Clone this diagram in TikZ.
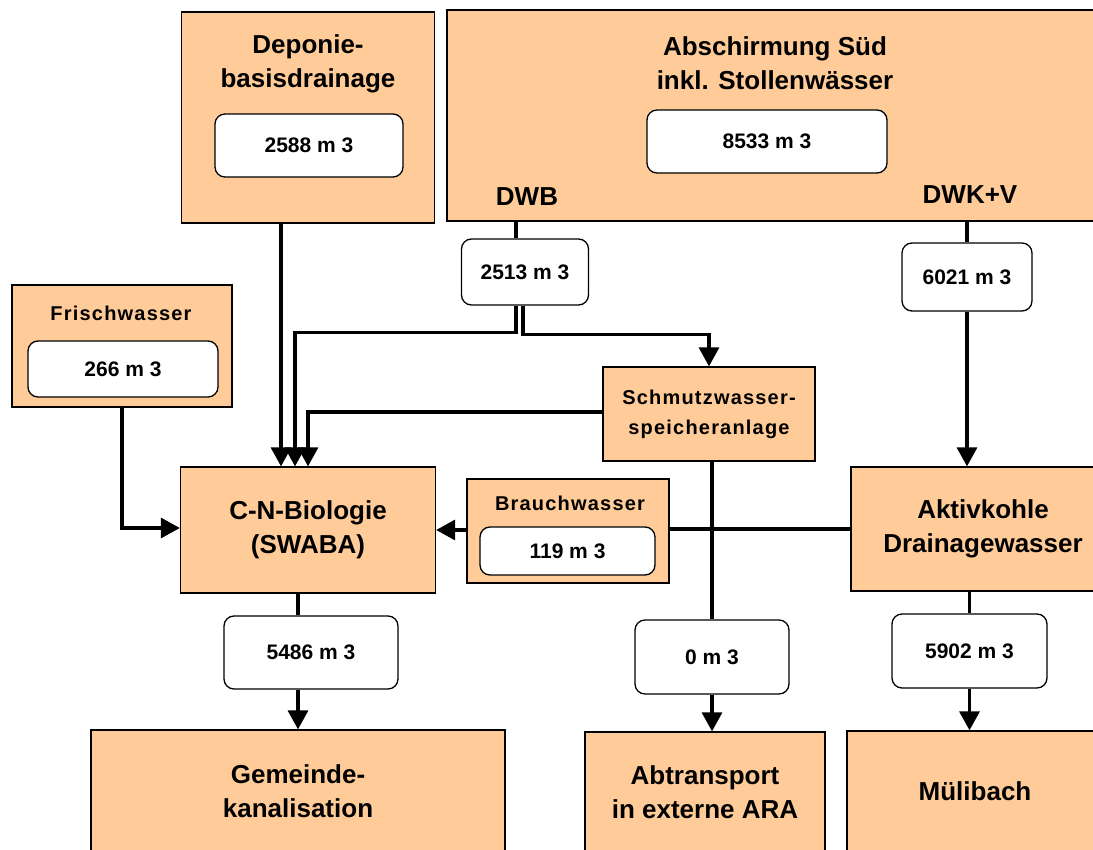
\documentclass[tikz,border=0pt]{standalone}
\usepackage{fontspec}
\setmainfont{Liberation Sans}
\newfontfamily\spacedfont[LetterSpace=6]{Liberation Sans}
\usetikzlibrary{arrows.meta}
\definecolor{peach}{HTML}{FFCC99}
\tikzset{
  unit/.style={draw, fill=peach, line width=1.3pt, inner sep=0pt},
  qty/.style={draw, fill=white, rounded corners=10pt, line width=1.3pt, inner sep=0pt,
    font=\bfseries\fontsize{21}{25}\selectfont},
  head/.style={font=\bfseries\fontsize{26}{34}\selectfont, align=center, inner sep=0pt},
  subhead/.style={font=\spacedfont\bfseries\fontsize{20}{30}\selectfont, align=center, inner sep=0pt},
  pipe/.style={line width=3.3pt},
  flow/.style={pipe, -{Triangle[length=19pt,width=20pt]}},
}
\begin{document}
\begin{tikzpicture}[x=1pt,y=-1pt]
  \useasboundingbox (0,0) rectangle (1093,850);
  % sources
  \node[unit, minimum width=253pt, minimum height=211pt] (dep) at (308,117.5) {};
  \node[head] (deptitle) at (308,64) {Deponie-\\basisdrainage};
  \node[qty, minimum width=188pt, minimum height=63pt] (q2588) at (309,145.5) {2588 m 3};
  \node[unit, minimum width=660pt, minimum height=211pt] (absch) at (777,115.5) {};
  \node[head] (abschtitle) at (775,63.5) {Abschirmung Süd\\inkl. Stollenwässer};
  \node[qty, minimum width=240pt, minimum height=63pt] (q8533) at (767,141.5) {8533 m 3};
  \node[head] (dwb) at (527,197) {DWB};
  \node[head] (dwkv) at (970,195) {DWK+V};
  \node[unit, minimum width=220pt, minimum height=122pt] (frisch) at (122,346) {};
  \node[subhead] (frischtitle) at (121,313) {Frischwasser};
  \node[qty, minimum width=190pt, minimum height=56pt] (q266) at (123,369) {266 m 3};
  \node[qty, minimum width=127pt, minimum height=66pt] (q2513) at (525,272) {2513 m 3};
  \node[qty, minimum width=130pt, minimum height=68pt] (q6021) at (967,277) {6021 m 3};
  % treatment
  \node[unit, minimum width=212pt, minimum height=94pt, subhead, inner sep=0pt]
    (schmutz) at (709,414) {Schmutzwasser-\\speicheranlage};
  \node[unit, minimum width=255pt, minimum height=126pt, head] (cn) at (308,530) {C-N-Biologie\\(SWABA)};
  \node[unit, minimum width=202pt, minimum height=104pt] (brauch) at (568,531) {};
  \node[subhead] (brauchtitle) at (570,503) {Brauchwasser};
  \node[qty, minimum width=175pt, minimum height=48pt] (q119) at (567.5,551) {119 m 3};
  \node[unit, minimum width=264pt, minimum height=124pt, head] (aktiv) at (983,529) {Aktivkohle\\Drainagewasser};
  \node[qty, minimum width=174pt, minimum height=73pt] (q5486) at (311,652.5) {5486 m 3};
  \node[qty, minimum width=154pt, minimum height=74pt] (q0) at (712,657) {0 m 3};
  \node[qty, minimum width=155pt, minimum height=74pt] (q5902) at (969.5,651) {5902 m 3};
  % sinks
  \node[unit, minimum width=414pt, minimum height=122pt, head] (gem) at (298,791) {Gemeinde-\\kanalisation};
  \node[unit, minimum width=240pt, minimum height=120pt, head] (abtr) at (705,792) {Abtransport\\in externe ARA};
  \node[unit, minimum width=256pt, minimum height=121pt, head] (muel) at (975,791.5) {Mülibach};
  % flows
  \draw[flow] ([xshift=-27pt]dep.south) -- ([xshift=-27pt]cn.north);
  \draw[pipe] ([xshift=-9pt]q2513.north |- absch.south) -- ([xshift=-9pt]q2513.north);
  \draw[flow] ([xshift=-9pt]q2513.south) -- ++(0,27) -| ([xshift=-13pt]cn.north);
  \draw[flow] ([xshift=-2pt]q2513.south) -- ++(0,29) -| (schmutz.north);
  \draw[flow] ([yshift=2pt]schmutz.west) -| (cn.north);
  \draw[flow] (frisch.south) |- ([yshift=2pt]cn.west);
  \draw[pipe] (q6021.north |- absch.south) -- (q6021.north);
  \draw[flow] (q6021.south) -- (q6021.south |- aktiv.north);
  \draw[pipe] (aktiv.west) -- (aktiv.west -| brauch.east);
  \draw[flow] (brauch.west |- cn.east) -- (cn.east);
  \draw[pipe] (q0.north |- schmutz.south) -- (q0.north);
  \draw[flow] (q0.south) -- (q0.south |- abtr.north);
  \draw[pipe] (cn.south -| gem.north) -- (q5486.north -| gem.north);
  \draw[flow] (q5486.south -| gem.north) -- (gem.north);
  \draw[pipe] (q5902.north |- aktiv.south) -- (q5902.north);
  \draw[flow] (q5902.south) -- (q5902.south |- muel.north);
\end{tikzpicture}
\end{document}
